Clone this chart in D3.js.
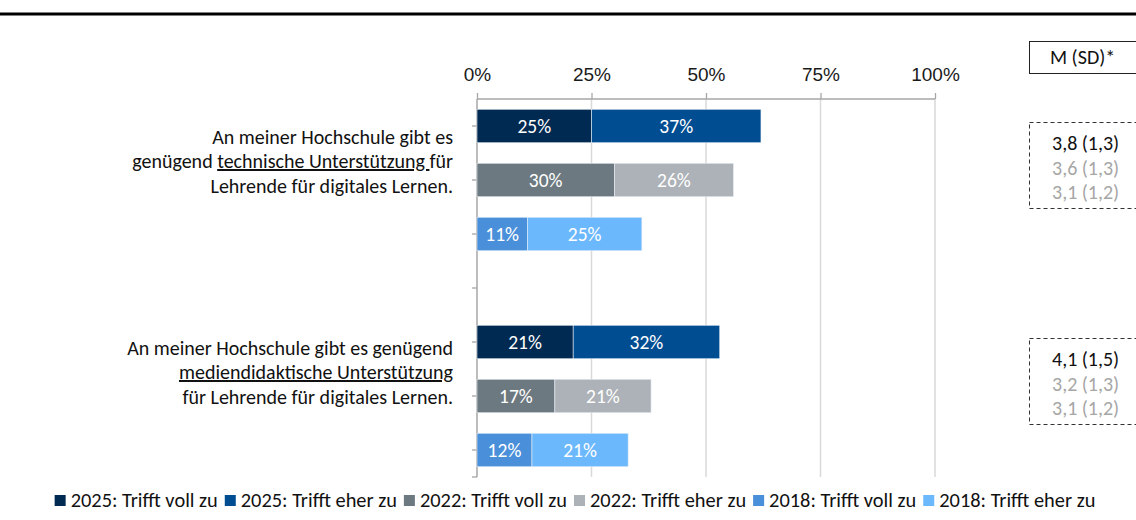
<!DOCTYPE html>
<html lang="de">
<head>
<meta charset="UTF-8">
<title>Unterstützung digitales Lernen</title>
<script src="https://cdn.jsdelivr.net/npm/d3@7"></script>
<style>
  html, body { margin: 0; background: #fff; }
  svg { display: block; font-family: Carlito, Lato, "Open Sans", sans-serif; }
  .tick text { font-size: 19px; fill: #1a1a1a; }
</style>
</head>
<body>
<script>
// data
var rows = ["t2025", "t2022", "t2018", "gap", "m2025", "m2022", "m2018"];
var series = ["2025: Trifft voll zu", "2025: Trifft eher zu", "2022: Trifft voll zu",
              "2022: Trifft eher zu", "2018: Trifft voll zu", "2018: Trifft eher zu"];
var colors = ["#012a52", "#014d92", "#6d7980", "#acb2b7", "#4a8fd9", "#6cb8fd"];
var vollZu = [25, 30, 11, null, 21, 17, 12];
var eherZu = [37, 26, 25, null, 32, 21, 21];
var rowYear = [0, 1, 2, null, 0, 1, 2];
var xTicks = [0, 25, 50, 75, 100];
var questions = [
  { rows: ["t2025", "t2022"], lines: [["An meiner Hochschule gibt es"], ["genügend ", "technische Unterstützung ", "für"], ["Lehrende für digitales Lernen."]] },
  { rows: ["m2025", "m2022"], lines: [["An meiner Hochschule gibt es genügend"], ["", "mediendidaktische Unterstützung", ""], ["für Lehrende für digitales Lernen."]] }
];
var meanSD = [["3,8 (1,3)", "3,6 (1,3)", "3,1 (1,2)"], ["4,1 (1,5)", "3,2 (1,3)", "3,1 (1,2)"]];

var W = 1136, H = 520;
var svg = d3.select("body").append("svg").attr("width", W).attr("height", H);

// top rule
svg.append("line").attr("x1", 0).attr("x2", W).attr("y1", 14).attr("y2", 14)
  .attr("stroke", "#000").attr("stroke-width", 3);

var x = d3.scaleLinear().domain([0, 100]).range([477, 935]);
var y = d3.scaleBand().domain(rows).range([99, 477]).paddingInner(0.38).paddingOuter(0.19);

// gridlines
svg.append("g").selectAll("line").data(xTicks.slice(1)).join("line")
  .attr("x1", d => x(d)).attr("x2", d => x(d)).attr("y1", 99).attr("y2", 477)
  .attr("stroke", "#d9d9d9").attr("stroke-width", 1.5);

// top axis
var xAxis = svg.append("g").attr("transform", "translate(0,99)")
  .call(d3.axisTop(x).tickValues(xTicks).tickFormat(d => d + "%").tickSize(6).tickPadding(12));
xAxis.selectAll("line, path").attr("stroke", "#a6a6a6").attr("stroke-width", 1.3);
xAxis.select(".domain").attr("d", "M477,0H935");

// left axis with ticks at row centres
var yAxis = svg.append("g");
yAxis.append("line").attr("x1", 477).attr("x2", 477).attr("y1", 99).attr("y2", 477)
  .attr("stroke", "#a6a6a6").attr("stroke-width", 1.5);
yAxis.selectAll("line.tk").data(rows).join("line").attr("class", "tk")
  .attr("x1", 472).attr("x2", 477)
  .attr("y1", d => y(d) + y.bandwidth() / 2).attr("y2", d => y(d) + y.bandwidth() / 2)
  .attr("stroke", "#a6a6a6").attr("stroke-width", 1.3);
yAxis.append("line").attr("x1", 472).attr("x2", 477).attr("y1", 477).attr("y2", 477)
  .attr("stroke", "#a6a6a6").attr("stroke-width", 1.3);

// bars
var segs = [];
rows.forEach(function (r, i) {
  if (vollZu[i] == null) return;
  var yr = rowYear[i];
  segs.push({ row: r, x0: 0, x1: vollZu[i], v: vollZu[i], c: colors[yr * 2] });
  segs.push({ row: r, x0: vollZu[i], x1: vollZu[i] + eherZu[i], v: eherZu[i], c: colors[yr * 2 + 1] });
});
var bars = svg.append("g");
bars.selectAll("rect").data(segs).join("rect")
  .attr("x", d => x(d.x0)).attr("width", d => x(d.x1) - x(d.x0))
  .attr("y", d => y(d.row)).attr("height", y.bandwidth())
  .attr("fill", d => d.c).attr("stroke", "#e8eef5").attr("stroke-width", 0.6);
bars.selectAll("text").data(segs).join("text")
  .attr("x", d => (x(d.x0) + x(d.x1)) / 2).attr("y", d => y(d.row) + y.bandwidth() / 2)
  .attr("dy", "0.35em").attr("text-anchor", "middle")
  .attr("fill", "#fff").attr("font-size", 19.5)
  .text(d => d.v + "%");

// question labels, one text per line
questions.forEach(function (q, qi) {
  var cy = (y(q.rows[0]) + y(q.rows[1])) / 2 + y.bandwidth() / 2 + (qi === 0 ? 8 : 3);
  q.lines.forEach(function (parts, li) {
    var t = svg.append("text").attr("x", 453).attr("y", cy + (li - 1) * 24.5)
      .attr("dy", "0.35em").attr("text-anchor", "end")
      .attr("font-size", 20).attr("fill", "#111");
    parts.forEach(function (p, pi) {
      if (!p) return;
      var ts = t.append("tspan").text(p);
      if (pi === 1) ts.attr("text-decoration", "underline");
    });
  });
});

// M (SD) header and boxes
svg.append("rect").attr("x", 1029.5).attr("y", 41.5).attr("width", 120).attr("height", 32)
  .attr("fill", "none").attr("stroke", "#222").attr("stroke-width", 1);
svg.append("text").attr("x", 1050).attr("y", 57).attr("dy", "0.35em")
  .attr("font-size", 20).attr("fill", "#111").text("M (SD)*");

questions.forEach(function (q, qi) {
  var top = y(q.rows[0]) + y.bandwidth() / 2 - 4;
  svg.append("rect").attr("x", 1029.5).attr("y", top + 0.5).attr("width", 120).attr("height", 86)
    .attr("fill", "none").attr("stroke", "#333").attr("stroke-width", 1).attr("stroke-dasharray", "4,3");
  svg.append("g").selectAll("text").data(meanSD[qi]).join("text")
    .attr("x", 1052).attr("y", (d, i) => top + 21 + i * 24.5).attr("dy", "0.35em")
    .attr("font-size", 20).attr("fill", (d, i) => i === 0 ? "#111" : "#a6a6a6")
    .text(d => d);
});

// legend
var legend = svg.append("g");
var lx = 0;
series.forEach(function (s, i) {
  var g = legend.append("g").attr("transform", "translate(" + lx + ",0)");
  g.append("rect").attr("x", 0).attr("y", -5).attr("width", 11).attr("height", 11).attr("fill", colors[i]);
  var t = g.append("text").attr("x", 16).attr("dy", "0.35em").attr("font-size", 20.4)
    .attr("fill", "#111").text(s);
  lx += 16 + t.node().getComputedTextLength() + 7;
});
legend.attr("transform", "translate(" + (575 - (lx - 7) / 2) + ",500)");
</script>
</body>
</html>
